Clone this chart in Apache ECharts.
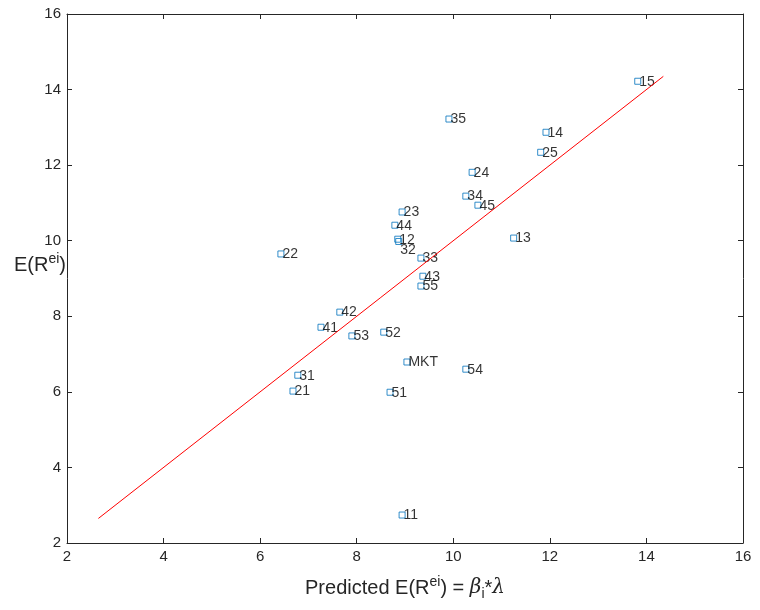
<!DOCTYPE html>
<html>
<head>
<meta charset="utf-8">
<script src="https://cdn.jsdelivr.net/npm/echarts@6/dist/echarts.min.js"></script>
<style>
  html, body { margin: 0; padding: 0; background: #fff; }
  #chart { width: 760px; height: 610px; }
</style>
</head>
<body>
<div id="chart"></div>
<script>
// portfolio labels, predicted E(R) (x) and realised mean excess return (y)
var names = ["15", "35", "14", "25", "24", "34", "45", "23", "44", "12", "32", "13", "22", "33", "43", "55",
  "42", "41", "53", "52", "MKT", "54", "31", "21", "51", "11"];
var predicted = [13.82, 9.91, 11.92, 11.81, 10.39, 10.26, 10.51, 8.94, 8.79, 8.85, 8.87, 11.25, 6.43, 9.33, 9.37, 9.33,
  7.65, 7.26, 7.90, 8.56, 9.04, 10.26, 6.78, 6.68, 8.69, 8.94];
var actual = [14.22, 13.22, 12.87, 12.34, 11.81, 11.18, 10.94, 10.76, 10.41, 10.04, 9.98, 10.07, 9.65, 9.54, 9.06, 8.80,
  8.11, 7.71, 7.48, 7.58, 6.79, 6.60, 6.44, 6.02, 5.99, 2.74];
// 45 degree line
var lineX = [2.65, 14.35];
var lineY = [2.65, 14.35];
var ticks = [2, 4, 6, 8, 10, 12, 14, 16];

var axisColor = "#262626";
var font = "Liberation Sans";

var chart = echarts.init(document.getElementById("chart"));

var pts = names.map(function (n, i) {
  var d = { name: n, value: [predicted[i], actual[i]] };
  if (n === "32") {
    d.label = { offset: [0, 8] };   // label sits under "12"
  }
  return d;
});

function boxAxis(pos) {
  return {
    type: "value",
    position: pos,
    min: ticks[0],
    max: ticks[ticks.length - 1],
    interval: 2,
    axisLine: { show: true, lineStyle: { color: axisColor, width: 1 } },
    axisTick: { show: true, inside: true, length: 5, lineStyle: { color: axisColor } },
    axisLabel: { show: false },
    splitLine: { show: false }
  };
}

var supStyle = { fontSize: 14, fontFamily: font, color: axisColor, padding: [0, 0, 12, 0] };

var option = {
  backgroundColor: "#fff",
  animation: false,
  grid: { left: 67, right: 17, top: 14, bottom: 67, outerBoundsMode: "none", containLabel: false },
  xAxis: [
    {
      type: "value",
      position: "bottom",
      min: ticks[0],
      max: ticks[ticks.length - 1],
      interval: 2,
      axisLine: { show: true, lineStyle: { color: axisColor, width: 1 } },
      axisTick: { show: true, inside: true, length: 5, lineStyle: { color: axisColor } },
      axisLabel: { color: axisColor, fontSize: 15, fontFamily: font, margin: 6 },
      splitLine: { show: false },
      name: "Predicted E(R{sup|ei}) = {g|\u03b2}{sub|i}*{g|\u03bb}",
      nameLocation: "middle",
      nameGap: 32,
      nameMoveOverlap: false,
      nameTextStyle: {
        color: axisColor, fontSize: 20, fontFamily: font,
        rich: {
          sup: supStyle,
          sub: { fontSize: 14, fontFamily: font, color: axisColor, padding: [12, 0, 0, 0] },
          g: { fontSize: 20, fontFamily: "DejaVu Serif", fontStyle: "italic", color: axisColor }
        }
      }
    },
    boxAxis("top")
  ],
  yAxis: [
    {
      type: "value",
      position: "left",
      min: ticks[0],
      max: ticks[ticks.length - 1],
      interval: 2,
      axisLine: { show: true, lineStyle: { color: axisColor, width: 1 } },
      axisTick: { show: true, inside: true, length: 5, lineStyle: { color: axisColor } },
      axisLabel: { color: axisColor, fontSize: 15, fontFamily: font, margin: 6 },
      splitLine: { show: false },
      name: "E(R{sup|ei})",
      nameLocation: "middle",
      nameRotate: 0,
      nameGap: 1,
      nameMoveOverlap: false,
      nameTextStyle: {
        color: axisColor, fontSize: 20, fontFamily: font,
        padding: [0, 0, 27, 0],
        rich: { sup: supStyle }
      }
    },
    boxAxis("right")
  ],
  series: [
    {
      type: "scatter",
      data: pts,
      symbol: "rect",
      symbolSize: 6,
      itemStyle: { color: "rgba(0,0,0,0)", borderColor: "#0072BD", borderWidth: 1 },
      label: {
        show: true,
        formatter: "{b}",
        position: [5, 4],
        align: "left",
        verticalAlign: "middle",
        color: "#000",
        fontSize: 14,
        fontFamily: font
      },
      z: 2
    },
    {
      type: "line",
      data: lineX.map(function (x, i) { return [x, lineY[i]]; }),
      symbol: "none",
      lineStyle: { color: "#ff0000", width: 1 },
      z: 3
    }
  ]
};

chart.setOption(option);
</script>
</body>
</html>
